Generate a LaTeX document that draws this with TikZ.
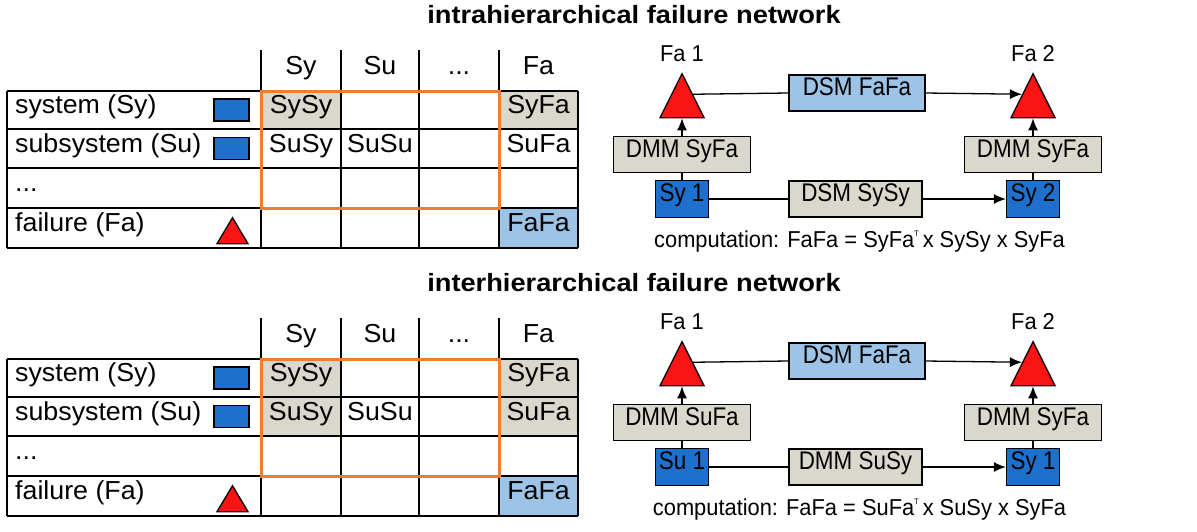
\documentclass[tikz,border=0pt]{standalone}
\usepackage{fontspec}
\setmainfont{Liberation Sans}
\newfontfamily\tabfont[FakeStretch=1.03]{Liberation Sans}
\newfontfamily\boxfont[FakeStretch=0.88]{Liberation Sans}
\newfontfamily\compfont[FakeStretch=0.95]{Liberation Sans}
\newfontfamily\headfont[FakeStretch=1.09]{Liberation Sans}
\usetikzlibrary{arrows.meta,shapes.geometric,calc}
\definecolor{sysblue}{RGB}{30,112,204}
\definecolor{dmmgray}{RGB}{218,216,205}
\definecolor{dsmblue}{RGB}{157,195,230}
\definecolor{failred}{RGB}{250,20,20}
\definecolor{mkorange}{RGB}{237,125,49}
\newcommand\tdots{...}

\begin{document}
\begin{tikzpicture}[x=1pt,y=-1pt,
  cell/.style={inner sep=0pt,text height=0.72em,text depth=0pt,font=\fontsize{26}{26}\tabfont},
  blk/.style={draw=black,line width=1.3pt,inner sep=0pt,text height=0.72em,text depth=0.2em,font=\fontsize{25.5}{25.5}\boxfont},
  sybox/.style={blk,fill=sysblue,minimum width=53pt,minimum height=37pt},
  dmmbox/.style={blk,fill=dmmgray,minimum width=137pt,minimum height=36pt},
  dsmbox/.style={blk,fill=dsmblue,minimum width=136pt,minimum height=36pt},
  fatri/.style={draw=black,line width=1.3pt,fill=failred,isosceles triangle,isosceles triangle stretches,shape border rotate=90,inner sep=0pt,minimum width=44pt,minimum height=44pt},
  lbl/.style={inner sep=0pt,text height=0.72em,text depth=0pt,font=\fontsize{23}{23}\compfont},
  link/.style={line width=1.3pt},
  arr/.style={link,-{Latex[length=12pt,width=10pt]}},
  grid/.style={line width=1.6pt}]
\useasboundingbox (0,0) rectangle (1197,531);

\foreach \i/\dy/\ttl/\rowtwo/\src/\dmma/\mid/\dst/\ta/\tb in {
  1/0/intrahierarchical failure network/white/Sy 1/DMM SyFa/DSM SySy/Sy 2/SyFa/SySy,
  2/268/interhierarchical failure network/dmmgray/Su 1/DMM SuFa/DMM SuSy/Sy 1/SuFa/SuSy}{
\begin{scope}[shift={(0,\dy)}]
  \node[cell,font=\fontsize{25}{25}\headfont\bfseries] (title\i) at (634,19.5) {\ttl};
  % matrix
  \fill[dmmgray] (261,91) rectangle (341,129);
  \fill[dmmgray] (499,91) rectangle (578,129);
  \fill[\rowtwo] (261,129) rectangle (341,168);
  \fill[\rowtwo] (499,129) rectangle (578,168);
  \fill[dsmblue] (499,208) rectangle (578,248);
  \foreach \y in {91,129,168,208,248} \draw[grid] (7,\y) -- (578,\y);
  \foreach \x in {7,578} \draw[grid] (\x,91) -- (\x,248);
  \foreach \x in {261,341,419,499} \draw[grid] (\x,50) -- (\x,248);
  \draw[line width=3pt,mkorange] (261,91) rectangle (499,208);
  \foreach \x/\t [count=\c] in {301/Sy,380/Su,459/\tdots,538.5/Fa}
    \node[cell] (head\i\c) at (\x,70.5) {\t};
  \foreach \y/\t [count=\c] in {110/system (Sy),148.5/subsystem (Su),188/\tdots,228/failure (Fa)}
    \node[cell,anchor=west] (row\i\c) at (15,\y) {\t};
  \node[cell] (sysy\i) at (301,110) {SySy};
  \node[cell] (syfa\i) at (538.5,110) {SyFa};
  \node[cell] (susy\i) at (301,148.5) {SuSy};
  \node[cell] (susu\i) at (380,148.5) {SuSu};
  \node[cell] (sufa\i) at (538.5,148.5) {SuFa};
  \node[cell] (fafa\i) at (538.5,228) {FaFa};
  \node[draw,line width=1.3pt,fill=sysblue,minimum width=35pt,minimum height=22pt,inner sep=0pt] (icsy\i) at (231.5,110) {};
  \node[draw,line width=1.3pt,fill=sysblue,minimum width=35pt,minimum height=22pt,inner sep=0pt] (icsu\i) at (231.5,148.5) {};
  \node[fatri,minimum width=31pt,minimum height=26pt,anchor=apex] (icfa\i) at (232.5,216) {};
  % network
  \node[fatri,anchor=apex] (faL\i) at (682,72) {};
  \node[fatri,anchor=apex] (faR\i) at (1033,72) {};
  \node[lbl] (faLlbl\i) at (682,57.5) {Fa 1};
  \node[lbl] (faRlbl\i) at (1033,57.5) {Fa 2};
  \node[dsmbox] (dsm\i) at (857,93) {DSM FaFa};
  \node[dmmbox] (dmmL\i) at (682,154.7) {\dmma};
  \node[dmmbox] (dmmR\i) at (1033,154.7) {DMM SyFa};
  \node[sybox] (src\i) at (682,199) {\src};
  \node[sybox] (dst\i) at (1033,199) {\dst};
  \node[dmmbox,minimum width=133pt] (mid\i) at (855.5,199) {\mid};
  \draw[link] ($(faL\i.apex)!0.48!(faL\i.right corner)$) -- (dsm\i.west);
  \draw[arr] (dsm\i.east) -- ($(faR\i.apex)!0.48!(faR\i.left corner)$);
  \draw[link] (src\i) -- (dmmL\i);
  \draw[arr] (dmmL\i) -- (faL\i.south);
  \draw[link] (src\i) -- (mid\i);
  \draw[arr] (mid\i) -- (dst\i);
  \draw[link] (dst\i) -- (dmmR\i);
  \draw[arr] (dmmR\i) -- (faR\i.south);
  \node[lbl] (comp\i) at (859.5,244) {computation: FaFa = \ta\raisebox{0.5em}{\fontsize{8}{8}\selectfont T}\,x \tb\ x SyFa};
\end{scope}
}
\end{tikzpicture}
\end{document}
